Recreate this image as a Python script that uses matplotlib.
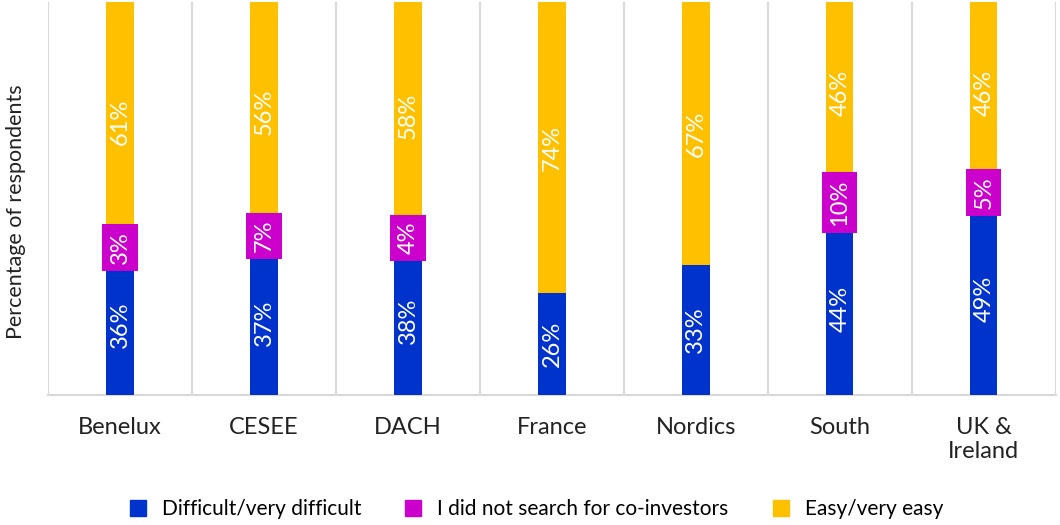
import numpy as np
import matplotlib.pyplot as plt
from matplotlib.lines import Line2D

# ------------------------------------------------------------
# data (percent of respondents)
# ------------------------------------------------------------
regions = ['Benelux', 'CESEE', 'DACH', 'France', 'Nordics', 'South', 'UK &\nIreland']
difficult = [36, 37, 38, 26, 33, 44, 49]
not_searched = [3, 7, 4, 0, 0, 10, 5]
easy = [61, 56, 58, 74, 67, 46, 46]

series_names = ['Difficult/very difficult', 'I did not search for co-investors', 'Easy/very easy']
colors = ['#0033CC', '#CC00CC', '#FFC000']

plt.rcParams['font.family'] = ['Lato', 'DejaVu Sans']

fig = plt.figure(figsize=(10.6, 5.25), dpi=100)
ax = fig.add_axes([0.0453, 0.2476, 0.9507, 0.7484])

x = np.arange(len(regions))
width = 0.19
bottom = np.zeros(len(regions))

for vals, color in zip([difficult, not_searched, easy], colors):
    vals = np.array(vals, dtype=float)
    ax.bar(x, vals, width, bottom=bottom, color=color, zorder=3)
    for xi, b, v in zip(x, bottom, vals):
        if v <= 0:
            continue
        kw = dict(rotation=90, ha='center', va='center', color='white',
                  fontsize=17, zorder=5)
        if color == colors[1]:
            # small segment: label sits in a magenta box wider than the bar
            kw['bbox'] = dict(boxstyle='square,pad=0.3', fc=color, ec='none')
        ax.text(xi, b + v / 2, f'{int(v)}%', **kw)
    bottom += vals

ax.set_xlim(-0.5, len(regions) - 0.5)
ax.set_ylim(0, 100)
ax.set_yticks([])
ax.set_xticks(x)
ax.set_xticklabels(regions, fontsize=17, color='#222222', linespacing=1.15)
ax.tick_params(axis='x', length=0, pad=16)
ax.set_xticks(np.arange(-0.5, len(regions)), minor=True)
ax.tick_params(axis='x', which='minor', length=0)
ax.grid(True, axis='x', which='minor', color='#D9D9D9', linewidth=1.5, zorder=0)

for side in ['top', 'right', 'left']:
    ax.spines[side].set_visible(False)
ax.spines['bottom'].set_color('#D9D9D9')
ax.spines['bottom'].set_linewidth(1.5)

ax.set_ylabel('Percentage of respondents', fontsize=15.5, color='#222222')
ax.yaxis.set_label_coords(-0.022, 0.466)

handles = [Line2D([], [], marker='s', linestyle='none', markersize=11,
                  markerfacecolor=c, markeredgecolor=c) for c in colors]
fig.legend(handles, series_names, loc='lower center', ncol=3, frameon=False,
           fontsize=15, handletextpad=0.15, columnspacing=1.5,
           bbox_to_anchor=(0.5, -0.025))

plt.savefig('out.png', dpi=100)
